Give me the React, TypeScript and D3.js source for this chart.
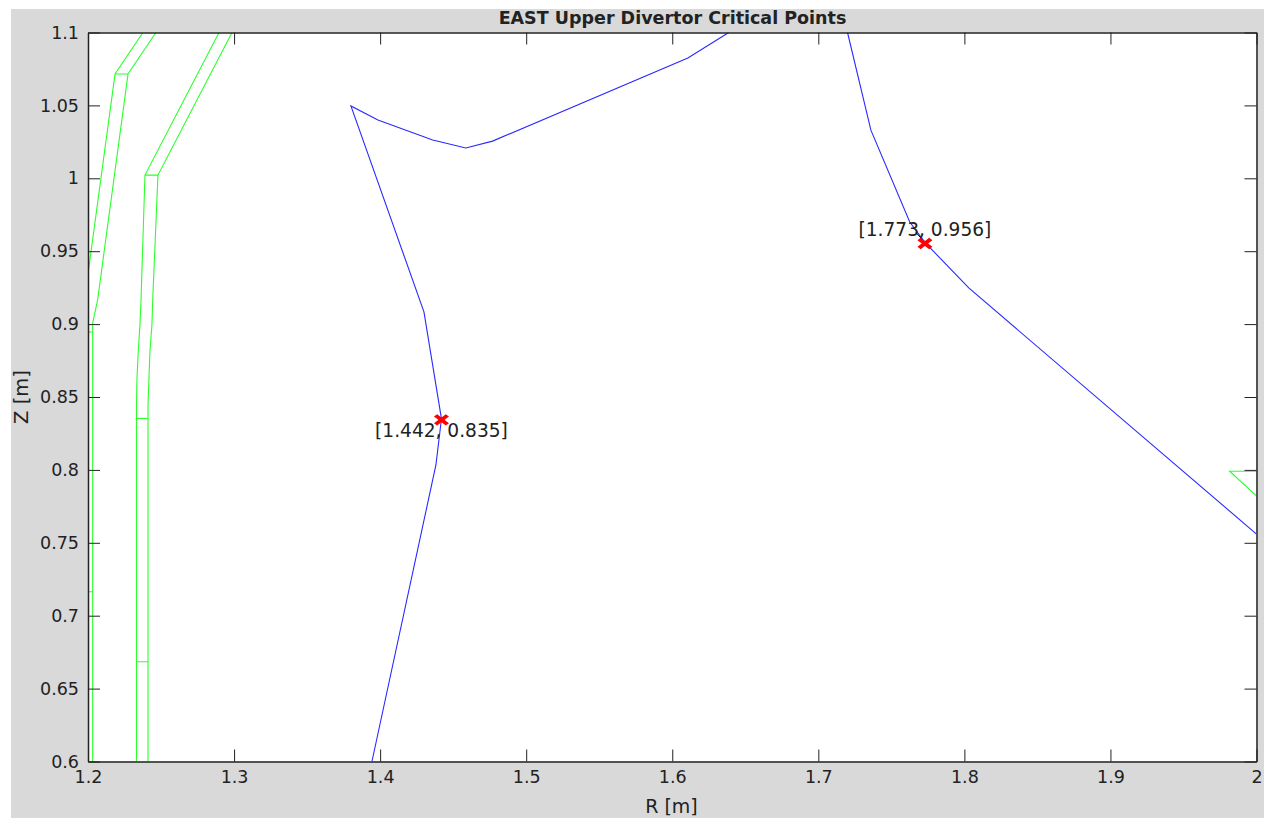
import React, { useRef, useEffect } from "react";
import * as d3 from "d3";

type Pt = [number, number];

const xTicks = [1.2, 1.3, 1.4, 1.5, 1.6, 1.7, 1.8, 1.9, 2];
const yTicks = [0.6, 0.65, 0.7, 0.75, 0.8, 0.85, 0.9, 0.95, 1, 1.05, 1.1];

// separatrix legs
const blueLeft: Pt[] = [
  [1.3944, 0.6], [1.4382, 0.8034], [1.442, 0.835], [1.43, 0.9084], [1.38, 1.0496],
  [1.3985, 1.04], [1.436, 1.0263], [1.4587, 1.0208], [1.477, 1.0255], [1.6107, 1.0825], [1.6387, 1.1],
];
const blueRight: Pt[] = [
  [1.72, 1.1], [1.736, 1.033], [1.7626, 0.97], [1.773, 0.956], [1.803, 0.9248], [2, 0.756],
];

// first wall
const wallA: Pt[] = [[1.2376, 1.1], [1.2185, 1.0715], [1.2, 0.9344]];
const wallB: Pt[] = [[1.2465, 1.1], [1.2274, 1.0715], [1.2066, 0.9166], [1.2032, 0.9008], [1.2032, 0.6]];
const wallC: Pt[] = [
  [1.2897, 1.1], [1.239, 1.0022], [1.2363, 0.9166], [1.2356, 0.9], [1.2344, 0.8811],
  [1.2335, 0.8617], [1.2332, 0.8446], [1.2332, 0.6],
];
const wallD: Pt[] = [
  [1.2986, 1.1], [1.2479, 1.0022], [1.2443, 0.9166], [1.2438, 0.9], [1.2424, 0.8811],
  [1.2417, 0.8617], [1.2411, 0.8446], [1.2411, 0.6],
];
const wallRight: Pt[] = [[2, 0.7991], [1.9816, 0.7991], [2, 0.7822]];
const wallRungs: Pt[][] = [
  [[1.2185, 1.0715], [1.2274, 1.0715]],
  [[1.239, 1.0022], [1.2479, 1.0022]],
  [[1.2, 0.8946], [1.2032, 0.8946]],
  [[1.2, 0.7164], [1.2032, 0.7164]],
  [[1.2332, 0.8353], [1.2411, 0.8353]],
  [[1.2332, 0.6684], [1.2411, 0.6684]],
];

const critR = [1.442, 1.773];
const critZ = [0.835, 0.956];
const critLabels = ["[1.442, 0.835]", "[1.773, 0.956]"];

const App = () => {
  const svgRef = useRef<SVGSVGElement>(null);

  useEffect(() => {
    const width = 1264;
    const height = 818;
    const margin = { top: 32.5, right: 7.5, bottom: 56.5, left: 88 };
    const font = "'DejaVu Sans', sans-serif";

    const svg = d3.select(svgRef.current);
    svg.selectAll("*").remove();

    // grey figure background, the screenshot has a white strip top and left
    svg.append("rect").attr("width", width).attr("height", height).attr("fill", "#fff");
    svg
      .append("rect")
      .attr("x", 11)
      .attr("y", 9)
      .attr("width", width - 11)
      .attr("height", height - 9)
      .attr("fill", "#d9d9d9");

    const xScale = d3.scaleLinear().domain([1.2, 2]).range([margin.left, width - margin.right]);
    const yScale = d3.scaleLinear().domain([0.6, 1.1]).range([height - margin.bottom, margin.top]);

    svg
      .append("rect")
      .attr("x", margin.left)
      .attr("y", margin.top)
      .attr("width", width - margin.left - margin.right)
      .attr("height", height - margin.top - margin.bottom)
      .attr("fill", "#fff");

    svg
      .append("clipPath")
      .attr("id", "plot-clip")
      .append("rect")
      .attr("x", margin.left)
      .attr("y", margin.top)
      .attr("width", width - margin.left - margin.right)
      .attr("height", height - margin.top - margin.bottom);

    const line = d3
      .line<Pt>()
      .x((d) => xScale(d[0]))
      .y((d) => yScale(d[1]));

    const plot = svg.append("g").attr("clip-path", "url(#plot-clip)");

    [wallA, wallB, wallC, wallD, wallRight, ...wallRungs].forEach((pts) => {
      plot
        .append("path")
        .attr("d", line(pts))
        .attr("fill", "none")
        .attr("stroke", "#2cff2c")
        .attr("stroke-width", 1.1);
    });

    [blueLeft, blueRight].forEach((pts) => {
      plot
        .append("path")
        .attr("d", line(pts))
        .attr("fill", "none")
        .attr("stroke", "#2a2aff")
        .attr("stroke-width", 1.1);
    });

    // Add axes, ticks point inwards on all four sides
    const tickLen = -12;
    const styleAxis = (g: any) => {
      g.selectAll("text").attr("fill", "#222").style("font-family", font).style("font-size", "17.5px");
      g.selectAll("line").attr("stroke", "#222");
      g.selectAll(".domain").attr("stroke", "#222").attr("stroke-width", 1.5);
    };

    svg
      .append("g")
      .attr("transform", `translate(0,${height - margin.bottom})`)
      .call(d3.axisBottom(xScale).tickValues(xTicks).tickFormat(String as any).tickSize(tickLen).tickSizeOuter(0).tickPadding(9))
      .call(styleAxis);
    svg
      .append("g")
      .attr("transform", `translate(0,${margin.top})`)
      .call(d3.axisTop(xScale).tickValues(xTicks).tickFormat(() => "").tickSize(tickLen).tickSizeOuter(0))
      .call(styleAxis);
    svg
      .append("g")
      .attr("transform", `translate(${margin.left},0)`)
      .call(d3.axisLeft(yScale).tickValues(yTicks).tickFormat(String as any).tickSize(tickLen).tickSizeOuter(0).tickPadding(9))
      .call(styleAxis);
    svg
      .append("g")
      .attr("transform", `translate(${width - margin.right},0)`)
      .call(d3.axisRight(yScale).tickValues(yTicks).tickFormat(() => "").tickSize(tickLen).tickSizeOuter(0))
      .call(styleAxis);

    // Critical points
    const labelOffset = [
      { dx: 0, dy: 12 },
      { dx: 0, dy: -13 },
    ];
    const cross = d3.symbol(d3.symbolX, 60);
    critR.forEach((r, i) => {
      const cx = xScale(r);
      const cy = yScale(critZ[i]) + 1;
      if (i === 1) {
        svg
          .append("line")
          .attr("x1", cx - 9)
          .attr("y1", cy - 11)
          .attr("x2", cx - 1)
          .attr("y2", cy - 2)
          .attr("stroke", "#000")
          .attr("stroke-width", 1);
      }
      svg
        .append("path")
        .attr("d", cross())
        .attr("transform", `translate(${cx},${cy}) scale(1.25,0.95)`)
        .attr("fill", "none")
        .attr("stroke", "#ff0000")
        .attr("stroke-width", 3.6);
      svg
        .append("text")
        .attr("x", cx + labelOffset[i].dx)
        .attr("y", cy + labelOffset[i].dy)
        .attr("dominant-baseline", "middle")
        .attr("text-anchor", "middle")
        .attr("fill", "#222")
        .style("font-family", font)
        .style("font-size", "18.6px")
        .text(critLabels[i]);
    });

    // Title and axis labels
    svg
      .append("text")
      .attr("x", 672.5)
      .attr("y", 24)
      .attr("text-anchor", "middle")
      .attr("fill", "#222")
      .style("font-family", font)
      .style("font-size", "17.5px")
      .style("font-weight", "bold")
      .text("EAST Upper Divertor Critical Points");
    svg
      .append("text")
      .attr("x", 671.5)
      .attr("y", 813)
      .attr("text-anchor", "middle")
      .attr("fill", "#222")
      .style("font-family", font)
      .style("font-size", "19px")
      .text("R [m]");
    svg
      .append("text")
      .attr("transform", "translate(28,397) rotate(-90)")
      .attr("text-anchor", "middle")
      .attr("fill", "#222")
      .style("font-family", font)
      .style("font-size", "19.5px")
      .text("Z [m]");
  }, []);

  return (
    <svg
      ref={svgRef}
      width={1264}
      height={818}
      style={{ position: "absolute", left: 0, top: 0, display: "block" }}
    ></svg>
  );
};

export default App;
